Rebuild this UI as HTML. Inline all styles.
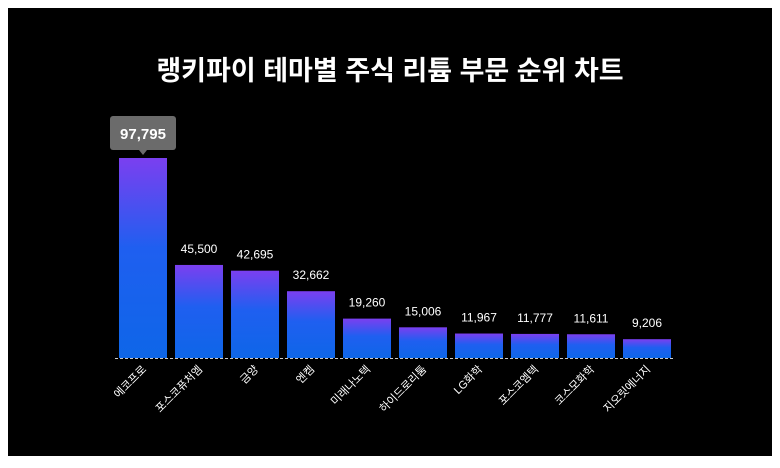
<!DOCTYPE html>
<html><head><meta charset="utf-8"><style>
body{margin:0;background:#fff;}
#wrap{position:relative;width:780px;height:468px;background:#fff;}
#panel{position:absolute;left:8px;top:8px;width:764px;height:448px;background:#000;}
svg{position:absolute;left:0;top:0;}
text{font-family:"Liberation Sans","Noto Sans CJK KR",sans-serif;}
</style></head><body>
<div id="wrap">
<div id="panel"></div>
<svg id="chart" width="780" height="468">
<defs><linearGradient id="g" x1="0" y1="0" x2="0" y2="1">
<stop offset="0" stop-color="#7b3ff0"/><stop offset="0.45" stop-color="#1f5ff0"/><stop offset="1" stop-color="#0e66e8"/></linearGradient></defs>
<text x="390" y="80" text-anchor="middle" fill="#fff" font-size="27" font-weight="bold">랭키파이 테마별 주식 리튬 부문 순위 차트</text>
</svg>
</div>
<script>
const categories=["에코프로","포스코퓨처엠","금양","엔켐","미래나노텍","하이드로리툼","LG화학","포스코엠텍","코스모화학","지오릿에너지"];
const values=[97795,45500,42695,32662,19260,15006,11967,11777,11611,9206];
const valueLabels=["97,795","45,500","42,695","32,662","19,260","15,006","11,967","11,777","11,611","9,206"];
const svg=document.getElementById('chart');
const NS='http://www.w3.org/2000/svg';
const baseY=358, plotH=200, maxV=97795, x0=119, pitch=56, bw=48;
const y=v=>baseY-v/maxV*plotH;
const xb=i=>x0+i*pitch;
function mk(t,a){const e=document.createElementNS(NS,t);for(const k in a)e.setAttribute(k,a[k]);svg.appendChild(e);return e;}
values.forEach((v,i)=>{
 const r=mk('rect',{x:xb(i),y:y(v),width:bw,height:baseY-y(v),fill:'url(#g)'});
 
 
 const cx=xb(i)+bw/2;
 if(i===0){
  const bx=mk('rect',{x:cx-33,y:y(v)-42,width:66,height:34,rx:3,fill:'#6b6b6b'});
  
  
  mk('path',{d:`M${cx-4} ${y(v)-8}L${cx} ${y(v)-3}L${cx+4} ${y(v)-8}Z`,fill:'#6b6b6b'});
  const t=mk('text',{x:cx,y:y(v)-19,'text-anchor':'middle',fill:'#fff','font-size':15,'font-weight':'bold'});
  t.textContent=valueLabels[i];
  
  
 } else {
  const t=mk('text',{x:cx,y:y(v)-12,'text-anchor':'middle',fill:'#fff','font-size':12});
  t.textContent=valueLabels[i];
  
  
 }
 const l=mk('text',{x:cx+4,y:baseY+12,'text-anchor':'end',fill:'#fff','font-size':11,transform:`rotate(-45 ${cx+4} ${baseY+12})`});
 l.textContent=categories[i];
 
 
});
const ax=mk('line',{x1:115,y1:baseY+0.5,x2:675,y2:baseY+0.5,stroke:'#ccc','stroke-width':1,'stroke-dasharray':'3,2'});


</script>
</body></html>
